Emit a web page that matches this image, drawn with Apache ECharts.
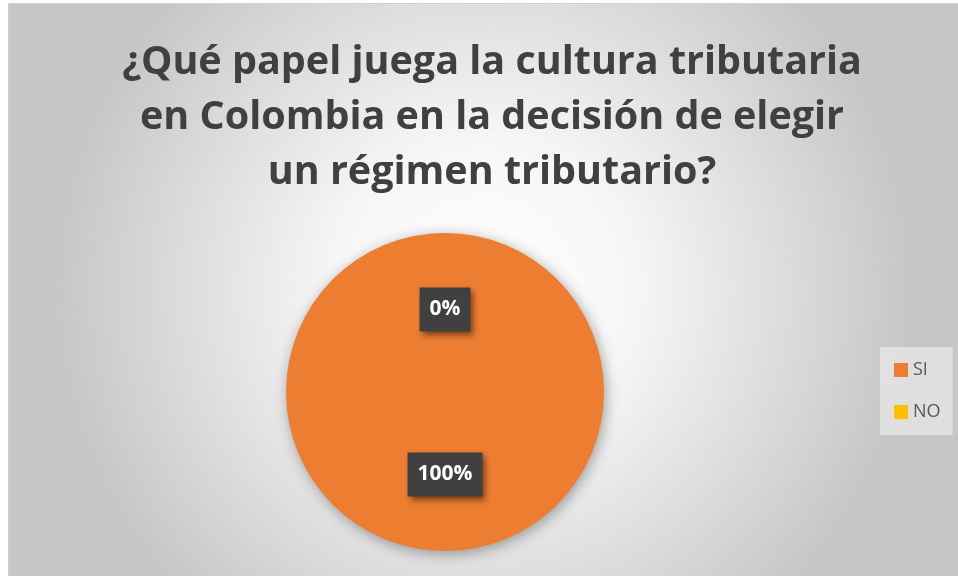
<!DOCTYPE html>
<html><head><meta charset="utf-8">
<script src="https://cdn.jsdelivr.net/npm/echarts@6/dist/echarts.min.js"></script>
<style>
html,body{margin:0;padding:0;background:#fff;}
#c{position:absolute;left:8px;top:3px;width:950px;height:573px;border-left:1px solid #d0d0d0;border-top:1px solid #d0d0d0;box-sizing:border-box;}
</style></head>
<body><div id="c"></div>
<script>
const titleText = '¿Qué papel juega la cultura tributaria\nen Colombia en la decisión de elegir\nun régimen tributario?';
const categories = ['SI', 'NO'];
const values = [100, 0];
const colors = ['#ED7D31', '#FFC000'];

const chart = echarts.init(document.getElementById('c'));
chart.setOption({
  backgroundColor: {
    type: 'radial', x: 0.5, y: 0.5, r: 0.75,
    colorStops: [{offset: 0, color: '#ffffff'}, {offset: 0.35, color: '#f6f6f6'}, {offset: 1, color: '#c6c6c6'}]
  },
  title: {
    text: titleText, left: 478, top: 26, textAlign: 'center',
    textStyle: {fontFamily: 'Open Sans', fontWeight: 'bold', fontSize: 39.5, color: '#404040', lineHeight: 55}
  },
  legend: {
    orient: 'vertical', left: 871, top: 343, itemWidth: 14, itemHeight: 14, itemGap: 24,
    backgroundColor: 'rgba(240,240,240,0.6)', padding: [14, 12, 14, 14],
    icon: 'rect',
    textStyle: {fontFamily: 'Open Sans', fontSize: 18, color: '#595959'},
    data: categories
  },
  series: [{
    type: 'pie', center: [436, 388], radius: 159, startAngle: 90, clockwise: true,
    stillShowZeroSum: true, avoidLabelOverlap: false,
    itemStyle: {shadowBlur: 14, shadowColor: 'rgba(0,0,0,0.35)', shadowOffsetX: 2, shadowOffsetY: 3},
    label: {
      position: 'inside',
      formatter: p => Math.round(p.percent) + '%',
      fontFamily: 'Open Sans', fontWeight: 'bold', fontSize: 21, color: '#fff',
      backgroundColor: '#404040', padding: [12, 10, 11, 10],
      shadowBlur: 6, shadowColor: 'rgba(0,0,0,0.5)', shadowOffsetX: 3, shadowOffsetY: 3
    },
    labelLine: {show: false},
    emphasis: {disabled: true},
    data: categories.map((n, i) => ({name: n, value: values[i], itemStyle: {color: colors[i]}}))
  }]
});
</script></body></html>
